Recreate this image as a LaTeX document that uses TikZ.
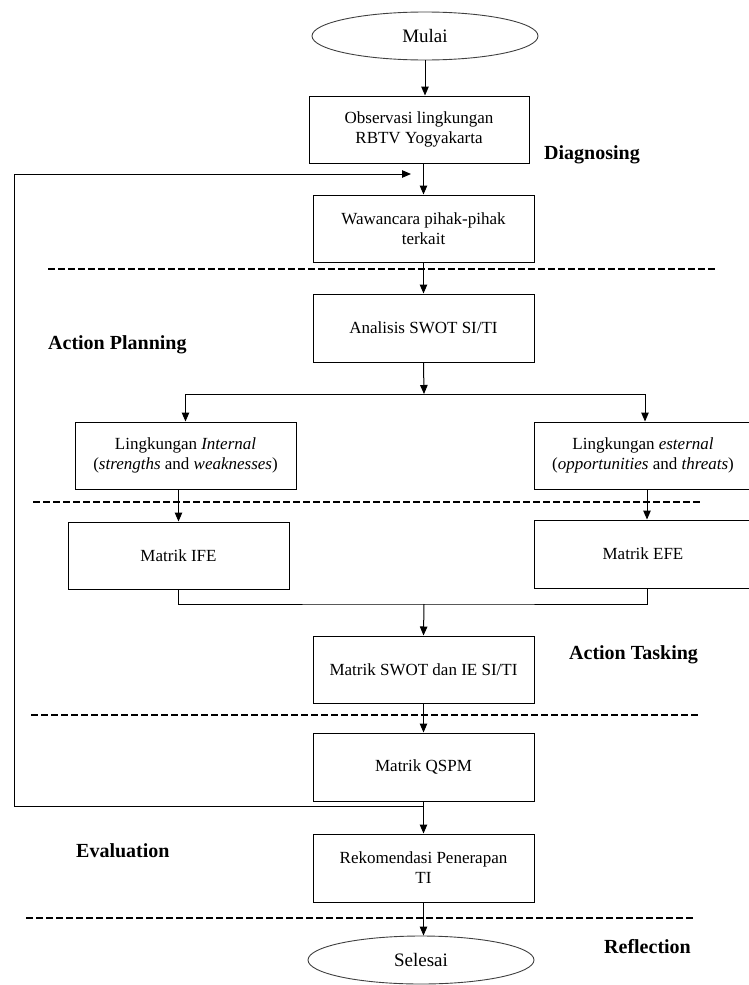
\documentclass[tikz,border=0pt]{standalone}
\usepackage{fontspec}
\setmainfont{Liberation Serif}
\usetikzlibrary{shapes.geometric,arrows.meta}
\begin{document}
\begin{tikzpicture}[x=1pt,y=-1pt,
  box/.style={draw=black,line width=1pt,rectangle,minimum width=221pt,minimum height=67pt,inner sep=2pt,align=center,font=\fontsize{17}{20}\selectfont},
  oval/.style={draw=black!75,line width=0.9pt,ellipse,minimum width=226pt,minimum height=48pt,inner sep=0pt,font=\fontsize{19}{22}\selectfont},
  phase/.style={anchor=west,inner sep=0pt,font=\fontsize{20}{24}\selectfont\bfseries},
  arr/.style={line width=1pt,-{Triangle[length=9pt,width=7.5pt]}},
  ln/.style={line width=1pt},
  sep/.style={line width=2.2pt,dash pattern=on 7pt off 3pt}]
\useasboundingbox (0,0) rectangle (749,985);

% nodes
\node[oval] (mulai) at (425,36) {Mulai};
\node[box,minimum width=220pt] (obs) at (419,129.5) {Observasi lingkungan\\RBTV Yogyakarta};
\node[box] (waw) at (423.5,228.5) {Wawancara pihak-pihak\\terkait};
\node[box,minimum height=68pt] (ana) at (423.5,328) {Analisis SWOT SI/TI};
\node[box] (intl) at (185.5,455.5) {Lingkungan \textit{Internal}\\(\textit{strengths} and \textit{weaknesses})};
\node[box,minimum width=218pt] (extl) at (643,455.5) {Lingkungan \textit{esternal}\\(\textit{opportunities} and \textit{threats})};
\node[box] (ife) at (178.5,555.5) {Matrik IFE};
\node[box,minimum width=218pt,minimum height=68pt] (efe) at (643,554) {Matrik EFE};
\node[box] (swie) at (423.5,669.5) {Matrik SWOT dan IE SI/TI};
\node[box,minimum height=68pt] (qspm) at (423.5,767) {Matrik QSPM};
\node[box,minimum height=68pt] (rek) at (423.5,868) {Rekomendasi Penerapan\\TI};
\node[oval] (sel) at (421,960) {Selesai};

% phase labels
\node[phase] (diag) at (544,155) {Diagnosing};
\node[phase] (plan) at (48,345) {Action Planning};
\node[phase] (task) at (569,655) {Action Tasking};
\node[phase] (eval) at (76,851) {Evaluation};
\node[phase] (refl) at (604,947) {Reflection};

% separators
\draw[sep] (48,269) -- (717,269);
\draw[sep] (33,502) -- (700,502);
\draw[sep] (31,715) -- (698,715);
\draw[sep] (26,918) -- (693,918);

% helper coordinates
\coordinate (br) at (424,394);
\coordinate (mg) at (424,604);
\coordinate (split) at (424,806);
\coordinate (fbl) at (14,806);
\coordinate (fbt) at (14,174);
\coordinate (fbe) at (411,174);

% connectors
\draw[arr] (mulai.south) -- (mulai.south |- obs.north);
\draw[arr] (waw.north |- obs.south) -- (waw.north);
\draw[arr] (split) -- (fbl) -- (fbt) -- (fbe);
\draw[arr] (waw.south) -- (ana.north);
\draw[arr] (ana.south) -- (br);
\draw[arr] (br) -| (intl.north);
\draw[arr] (br) -| ([xshift=2pt]extl.north);
\draw[arr] (ife.north |- intl.south) -- (ife.north);
\draw[arr] ([xshift=4pt]efe.north |- extl.south) -- ([xshift=4pt]efe.north);
\draw[ln] (ife.south) |- (mg) -| ([xshift=4pt]efe.south);
\draw[arr] (mg) -- (swie.north);
\draw[arr] (swie.south) -- (qspm.north);
\draw[arr] (qspm.south) -- (rek.north);
\draw[arr] (rek.south) -- (rek.south |- sel.north);
\end{tikzpicture}
\end{document}
